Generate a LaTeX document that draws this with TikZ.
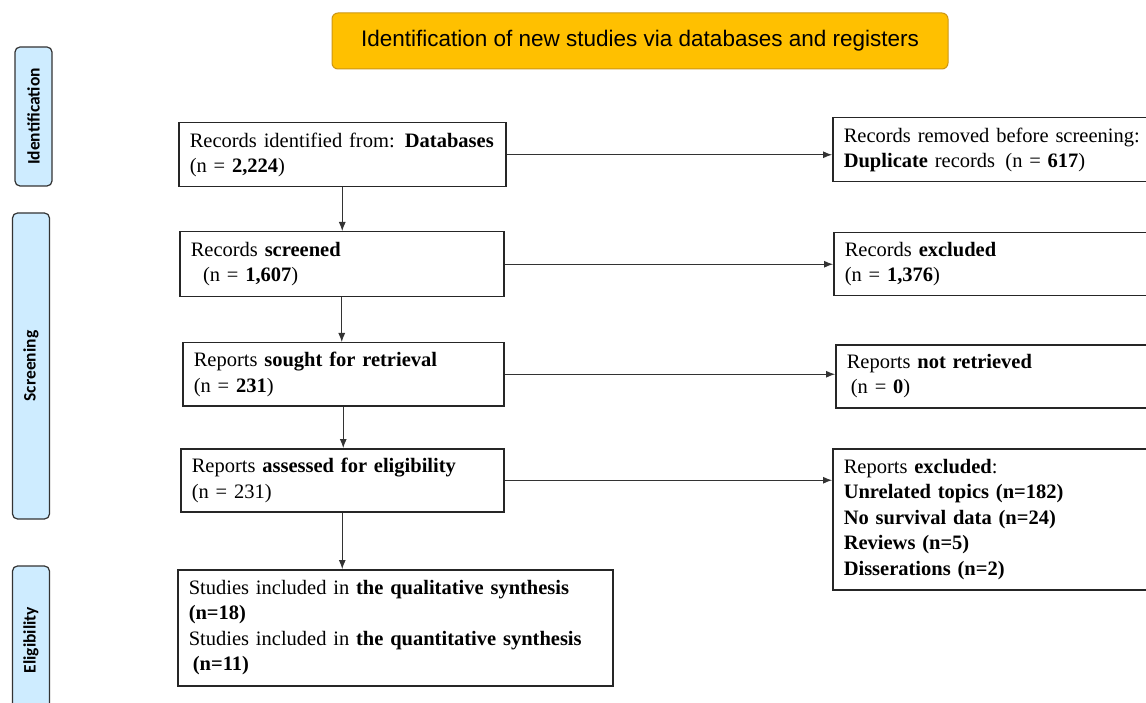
\documentclass[tikz,border=0pt]{standalone}
\usepackage{fontspec}
\setmainfont{Liberation Serif}
\newfontfamily\headfont{Liberation Sans}
\newfontfamily\phasefont{Carlito}
\usetikzlibrary{positioning,arrows.meta}
\definecolor{headorange}{RGB}{255,192,0}
\definecolor{headedge}{RGB}{205,150,20}
\definecolor{phaseblue}{RGB}{206,236,255}

\begin{document}
\begin{tikzpicture}[
x=1pt, y=-1pt,
box/.style={draw=black!85, line width=1.5pt, anchor=north west, align=left, inner xsep=11pt, inner ysep=0pt, font=\fontsize{20.5}{25.5}\selectfont},
title/.style={draw=headedge, fill=headorange, rounded corners=6pt, line width=1pt, font=\headfont\fontsize{22.5}{26}\selectfont},
phase/.style={draw=black!80, fill=phaseblue, rounded corners=5pt, line width=1.2pt, rotate=90, minimum height=37pt, font=\phasefont\bfseries\fontsize{17.5}{20}\selectfont},
arr/.style={-{Latex[length=9pt,width=7pt]}, line width=0.9pt, draw=black!80}
]
\useasboundingbox (0,0) rectangle (1146,703);
\clip (0,0) rectangle (1146,703);

% heading and phases
\node[title, minimum width=616pt, minimum height=56pt] (head) at (640,41) {Identification of new studies via databases and registers};
\node[phase, minimum width=139pt] (pid) at (33.5,116.5) {Identification};
\node[phase, minimum width=306pt] (pscr) at (31,366) {Screening};
\node[phase, minimum width=148pt] (pel) at (31,640) {Eligibility};

% main column
\node[box, text width=305pt, minimum height=64pt] (rec) at (178,122) {Records identified from: \textbf{Databases}\\(n = \textbf{2,224})};
\node[box, text width=302pt, minimum height=65pt] (scr) at (179,231) {Records \textbf{screened}\\\hspace*{0.6em}(n = \textbf{1,607})};
\node[box, text width=299pt, minimum height=63pt] (sought) at (182,342) {Reports \textbf{sought for retrieval}\\(n = \textbf{231})};
\node[box, text width=301pt, minimum height=63pt] (assess) at (180,448) {Reports \textbf{assessed for eligibility}\\(n = 231)};
\node[box, text width=413pt, minimum height=116pt] (incl) at (177,569) {Studies included in \textbf{the qualitative synthesis}\\\textbf{(n=18)}\\Studies included in \textbf{the quantitative synthesis}\\\hspace*{0.2em}\textbf{(n=11)}};

% side column
\node[box, text width=330pt, minimum height=64pt] (dup) at (832,117) {Records removed before screening:\\\textbf{Duplicate} records\, (n = \textbf{617})};
\node[box, text width=330pt, minimum height=63pt] (excl) at (833,232) {Records \textbf{excluded}\\(n = \textbf{1,376})};
\node[box, text width=330pt, minimum height=63pt] (notret) at (835,344) {Reports \textbf{not retrieved}\\\hspace*{0.2em}(n = \textbf{0})};
\node[box, text width=330pt, minimum height=141pt] (rexcl) at (832,448) {Reports \textbf{excluded}:\\\textbf{Unrelated topics (n=182)}\\\textbf{No survival data (n=24)}\\\textbf{Reviews (n=5)}\\\textbf{Disserations (n=2)}};

\draw[arr] (rec.south) -- (rec.south |- scr.north);
\draw[arr] (scr.south) -- (scr.south |- sought.north);
\draw[arr] (sought.south) -- (sought.south |- assess.north);
\draw[arr] (assess.south) -- (assess.south |- incl.north);

\draw[arr] (rec.east) -- (rec.east -| dup.west);
\draw[arr] (scr.east) -- (scr.east -| excl.west);
\draw[arr] (sought.east) -- (sought.east -| notret.west);
\draw[arr] (assess.east) -- (assess.east -| rexcl.west);
\end{tikzpicture}
\end{document}
